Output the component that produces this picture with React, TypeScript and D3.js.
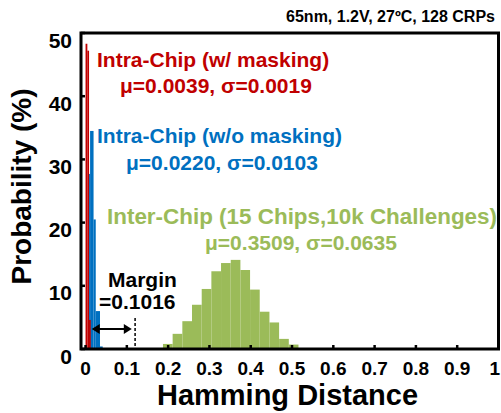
import React from "react";
import * as d3 from "d3";

// ---- data ----
const redLo = [0.0, 0.0044, 0.0085];
const redHi = [0.0044, 0.0085, 0.0126];
const redProb = [48.3, 47.2, 4.6];

const blueLo = [0.0085, 0.011, 0.0194, 0.0247, 0.035];
const blueHi = [0.011, 0.0194, 0.0247, 0.035, 0.0416];
const blueProb = [27.7, 34.5, 20.5, 6.0, 0.4];

const greenLo = [0.1875, 0.2109, 0.2344, 0.2578, 0.2813, 0.3047, 0.3281, 0.3516, 0.375, 0.3984, 0.4219, 0.4453, 0.4688, 0.4922];
const greenW = 0.0234;
const greenProb = [0.8, 2.4, 4.4, 7.0, 9.5, 12.3, 13.6, 14.1, 12.5, 9.4, 5.9, 4.2, 1.6, 0.7];

const xTicks = [0, 0.1, 0.2, 0.3, 0.4, 0.5, 0.6, 0.7, 0.8, 0.9, 1];
const xTickLabels = ["0", "0.1", "0.2", "0.3", "0.4", "0.5", "0.6", "0.7", "0.8", "0.9", "1"];
const yTicks = [0, 10, 20, 30, 40, 50];

const marginFrom = 0.015;
const marginTo = 0.112;
const marginLine = 0.12;

const RED = "#C00000";
const BLUE = "#0070C0";
const GREEN = "#9BBB59";
const FONT = "'Liberation Sans', Arial, sans-serif";

export default function App() {
  const left = 81, right = 498.5, top = 33, bottom = 349;
  const x = d3.scaleLinear().domain([-0.011, 1.0]).range([left, right]);
  const y = d3.scaleLinear().domain([0, 50]).range([bottom, top]);

  const bars = (lo: number[], hi: number[], p: number[], color: string, key: string) =>
    p.map((v, i) => (
      <rect key={key + i} x={x(lo[i])} y={y(v)} width={x(hi[i]) - x(lo[i])} height={y(0) - y(v)} fill={color} />
    ));

  const ay = y(0) - 20;
  const ax1 = x(marginFrom), ax2 = x(marginTo);

  return (
    <svg width={501} height={413} style={{ position: "absolute", left: 0, top: 0 }} fontFamily={FONT} fontWeight="bold">
      <rect width={501} height={413} fill="#fff" />
      {bars(greenLo, greenLo.map((v) => v + greenW), greenProb, GREEN, "g")}
      {bars(blueLo, blueHi, blueProb, BLUE, "b")}
      {bars(redLo, redHi, redProb, RED, "r")}

      {/* frame */}
      <rect x={left} y={top} width={right - left} height={bottom - top} fill="none" stroke="#000" strokeWidth={3} />
      {xTicks.map((t, i) => (
        <g key={"xt" + i}>
          <line x1={x(t)} x2={x(t)} y1={bottom} y2={bottom - 4} stroke="#000" strokeWidth={2.5} />
          <text x={i === xTicks.length - 1 ? 500 : x(t)} y={375} fontSize={19}
            textAnchor={i === xTicks.length - 1 ? "end" : "middle"} fill="#000">{xTickLabels[i]}</text>
        </g>
      ))}
      {yTicks.map((t, i) => (
        <g key={"yt" + i}>
          <line x1={left} x2={left + 4} y1={y(t)} y2={y(t)} stroke="#000" strokeWidth={2.5} />
          <text x={72} y={y(t) + 14.5} fontSize={21} textAnchor="end" fill="#000">{t}</text>
        </g>
      ))}

      {/* axis labels */}
      <text x={287.5} y={405} fontSize={29} textAnchor="middle" fill="#000">Hamming Distance</text>
      <text transform={`translate(31,186.5) rotate(-90)`} fontSize={28} textAnchor="middle" fill="#000">Probability (%)</text>

      {/* title */}
      <text x={495} y={22} fontSize={16} textAnchor="end" fill="#000">65nm, 1.2V, 27ºC, 128 CRPs</text>

      {/* annotations */}
      <text x={97} y={66.5} fontSize={21} fill={RED}>Intra-Chip (w/ masking)</text>
      <text x={120} y={93} fontSize={21} fill={RED}>μ=0.0039, σ=0.0019</text>
      <text x={97} y={143} fontSize={21} fill={BLUE}>Intra-Chip (w/o masking)</text>
      <text x={126} y={170} fontSize={21} fill={BLUE}>μ=0.0220, σ=0.0103</text>
      <text x={107} y={224} fontSize={22} textLength={390} lengthAdjust="spacingAndGlyphs" fill={GREEN}>Inter-Chip (15 Chips,10k Challenges)</text>
      <text x={205} y={250} fontSize={21} fill={GREEN}>μ=0.3509, σ=0.0635</text>
      <text x={108} y={287} fontSize={21} fill="#000">Margin</text>
      <text x={99} y={308.5} fontSize={21} fill="#000">=0.1016</text>

      {/* margin arrow */}
      <line x1={ax1 + 2} x2={ax2 - 2} y1={ay} y2={ay} stroke="#000" strokeWidth={2} />
      <path d={`M${ax1},${ay} l8,-5 l0,10 z`} fill="#000" />
      <path d={`M${ax2},${ay} l-8,-5 l0,10 z`} fill="#000" />
      <line x1={x(marginLine)} x2={x(marginLine)} y1={ay - 11} y2={bottom} stroke="#000" strokeWidth={1.5} strokeDasharray="3,2" />
    </svg>
  );
}
